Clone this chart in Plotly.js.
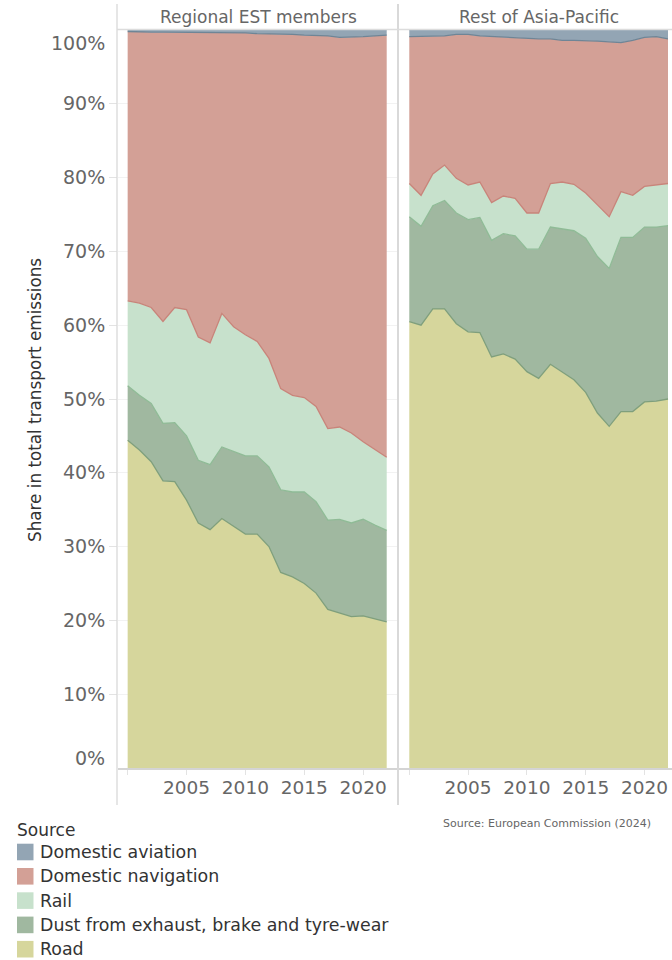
<!DOCTYPE html>
<html>
<head>
<meta charset="utf-8">
<script src="https://cdn.plot.ly/plotly-3.0.1.min.js"></script>
<style>
  html, body { margin: 0; padding: 0; background: #ffffff; }
  #chart { width: 672px; height: 960px; }
</style>
</head>
<body>
<div id="chart"></div>
<script>
// ---- Data (shares of total transport emissions, %) ----
const years = [2000, 2001, 2002, 2003, 2004, 2005, 2006, 2007, 2008, 2009, 2010, 2011,
               2012, 2013, 2014, 2015, 2016, 2017, 2018, 2019, 2020, 2021, 2022];

const panels = ["Regional EST members", "Rest of Asia-Pacific"];
const sources = ["Road", "Dust from exhaust, brake and tyre-wear", "Rail", "Domestic navigation", "Domestic aviation"];

// Regional EST members
const estRoad     = [44.4, 43.1, 41.5, 38.9, 38.8, 36.3, 33.2, 32.3, 33.8, 32.7, 31.7, 31.7, 30.0, 26.5, 25.9, 25.0, 23.7, 21.5, 21.0, 20.5, 20.6, 20.2, 19.8];
const estDust     = [7.4, 7.4, 7.9, 7.8, 8.0, 8.7, 8.5, 8.8, 9.7, 10.2, 10.6, 10.6, 10.8, 11.2, 11.5, 12.4, 12.4, 12.1, 12.7, 12.7, 13.1, 12.7, 12.4];
const estRail     = [11.5, 12.5, 13.0, 13.8, 15.6, 17.1, 16.7, 16.5, 18.1, 16.9, 16.4, 15.5, 14.7, 13.7, 13.1, 12.8, 12.9, 12.4, 12.5, 12.2, 10.5, 10.3, 9.9];
const estNav      = [36.5, 36.7, 37.3, 39.2, 37.3, 37.6, 41.3, 42.1, 38.1, 39.8, 40.9, 41.7, 44.0, 48.0, 48.9, 49.1, 50.3, 53.2, 52.8, 53.6, 54.9, 56.0, 57.2];
const estAviation = [0.2, 0.3, 0.3, 0.3, 0.3, 0.3, 0.3, 0.3, 0.3, 0.4, 0.4, 0.5, 0.5, 0.6, 0.6, 0.7, 0.7, 0.8, 1.0, 1.0, 0.9, 0.8, 0.7];

// Rest of Asia-Pacific
const rapRoad     = [60.5, 60.0, 62.2, 62.2, 60.2, 59.1, 59.0, 55.7, 56.1, 55.4, 53.7, 52.8, 54.7, 53.6, 52.6, 50.9, 48.1, 46.3, 48.3, 48.3, 49.6, 49.7, 50.0];
const rapDust     = [14.2, 13.4, 14.0, 14.7, 15.0, 15.2, 15.6, 15.8, 16.3, 16.7, 16.6, 17.5, 18.6, 19.4, 20.2, 20.9, 21.2, 21.4, 23.6, 23.6, 23.7, 23.6, 23.5];
const rapRail     = [4.5, 4.2, 4.3, 4.8, 4.7, 4.7, 4.8, 5.1, 5.1, 5.1, 4.9, 4.9, 5.9, 6.4, 6.3, 6.1, 7.0, 7.0, 6.2, 5.7, 5.5, 5.7, 5.7];
const rapNav      = [19.9, 21.5, 18.6, 17.5, 19.5, 20.4, 19.8, 22.5, 21.5, 21.8, 23.6, 23.6, 19.6, 19.2, 19.5, 20.7, 22.2, 23.7, 20.2, 21.0, 20.2, 20.1, 19.6];
const rapAviation = [0.9, 0.9, 0.9, 0.8, 0.6, 0.6, 0.8, 0.9, 1.0, 1.0, 1.2, 1.2, 1.2, 1.4, 1.4, 1.4, 1.5, 1.6, 1.7, 1.4, 1.0, 0.9, 1.2];

const xTickVals = [2000, 2005, 2010, 2015, 2020];
const xTickText = ["", "2005", "2010", "2015", "2020"];
const yTickVals = [10, 20, 30, 40, 50, 60, 70, 80, 90];
const yTickText = ["10%", "20%", "30%", "40%", "50%", "60%", "70%", "80%", "90%"];

// ---- Styles ----
const fillColors = {
  "Road": "#d6d69c",
  "Dust from exhaust, brake and tyre-wear": "#a0b8a0",
  "Rail": "#c7e1cc",
  "Domestic navigation": "#d3a096",
  "Domestic aviation": "#93a5b4"
};
// border colour drawn on each trace's upper edge (darker tone of the area above)
const edgeColors = {
  "Road": "#7f9f7c",
  "Dust from exhaust, brake and tyre-wear": "#8fbb96",
  "Rail": "#c8847a",
  "Domestic navigation": "#6f8596",
  "Domestic aviation": "#93a5b4"
};
const FONT = "DejaVu Sans";

const W = 672, H = 960;
const plotTop = 30, plotBottom = 768;
const plotH = plotBottom - plotTop;
const px2paperY = y => 1 - (y - plotTop) / plotH;

const estSeries = [estRoad, estDust, estRail, estNav, estAviation];
const rapSeries = [rapRoad, rapDust, rapRail, rapNav, rapAviation];

const traces = [];
[[estSeries, "x", "y", "est"], [rapSeries, "x2", "y2", "rap"]].forEach(([series, xa, ya, grp]) => {
  sources.forEach((s, i) => {
    const t = {
      type: "scatter",
      mode: "lines",
      x: years,
      y: series[i],
      xaxis: xa,
      yaxis: ya,
      name: s,
      stackgroup: grp,
      fillcolor: fillColors[s],
      line: { color: edgeColors[s], width: i === 4 ? 0.5 : 1.3, shape: "linear" },
      showlegend: false,
      hoverinfo: "x+y+name"
    };
    if (i === 0) t.groupnorm = "percent";
    traces.push(t);
  });
});

const gray = "#d9d9d9";
const shapes = [];
// facet frame lines
[117, 398].forEach(xp => {
  shapes.push({ type: "line", xref: "paper", yref: "paper",
    x0: xp / W, x1: xp / W, y0: px2paperY(4), y1: px2paperY(805),
    line: { color: gray, width: xp === 398 ? 2 : 1.3 }, layer: "above" });
});
// header bottom line
shapes.push({ type: "line", xref: "paper", yref: "paper",
  x0: 117 / W, x1: 1, y0: px2paperY(29.5), y1: px2paperY(29.5),
  line: { color: "#dcdcdc", width: 1.3 }, layer: "above" });

const annotations = [];
// facet headers
annotations.push({ text: panels[0], xref: "paper", yref: "paper", x: 258 / W, y: px2paperY(17.5),
  xanchor: "center", yanchor: "middle", showarrow: false, font: { family: FONT, size: 17, color: "#666666" } });
annotations.push({ text: panels[1], xref: "paper", yref: "paper", x: 539 / W, y: px2paperY(17.5),
  xanchor: "center", yanchor: "middle", showarrow: false, font: { family: FONT, size: 17, color: "#666666" } });
// end labels of the y axis (shifted inside like the original)
annotations.push({ text: "100%", xref: "paper", yref: "paper", x: 107 / W, y: px2paperY(43),
  xanchor: "right", yanchor: "middle", showarrow: false, font: { family: FONT, size: 19, color: "#666666" } });
annotations.push({ text: "0%", xref: "paper", yref: "paper", x: 107 / W, y: px2paperY(758),
  xanchor: "right", yanchor: "middle", showarrow: false, font: { family: FONT, size: 19, color: "#666666" } });
// y axis title
annotations.push({ text: "Share in total transport emissions", xref: "paper", yref: "paper",
  x: 35 / W, y: px2paperY(400), xanchor: "center", yanchor: "middle", textangle: -90,
  showarrow: false, font: { family: FONT, size: 16.8, color: "#333333" } });
// source note
annotations.push({ text: "Source: European Commission (2024)", xref: "paper", yref: "paper",
  x: 441 / W, y: px2paperY(823), xanchor: "left", yanchor: "middle", showarrow: false,
  font: { family: FONT, size: 11, color: "#666666" } });

// manual legend (top of stack first)
annotations.push({ text: "Source", xref: "paper", yref: "paper", x: 15 / W, y: px2paperY(830),
  xanchor: "left", yanchor: "middle", showarrow: false, font: { family: FONT, size: 17, color: "#333333" } });
const legendOrder = sources.slice().reverse();
legendOrder.forEach((s, k) => {
  const cy = 852 + k * 24.3;
  shapes.push({ type: "rect", xref: "paper", yref: "paper",
    x0: 17 / W, x1: 33.5 / W, y0: px2paperY(cy - 8.3), y1: px2paperY(cy + 8.3),
    fillcolor: fillColors[s], line: { width: 0 } });
  annotations.push({ text: s, xref: "paper", yref: "paper", x: 38 / W, y: px2paperY(cy),
    xanchor: "left", yanchor: "middle", showarrow: false,
    font: { family: FONT, size: 17.4, color: "#333333" } });
});

const xCommon = {
  tickmode: "array", tickvals: xTickVals, ticktext: xTickText,
  ticks: "outside", ticklen: 5, tickcolor: "#e3e3e3", tickwidth: 1,
  ticklabelstandoff: -3,
  showline: true, linecolor: "#d4d4d4", linewidth: 1.5,
  showgrid: false, zeroline: false,
  tickfont: { family: FONT, size: 18.5, color: "#666666" }
};
const yCommon = {
  range: [0, 100], domain: [0, 1], showgrid: true, gridcolor: "#f2f2f2", gridwidth: 1,
  zeroline: false, showline: false,
  tickmode: "array", tickvals: yTickVals, ticktext: yTickText
};

const layout = {
  width: W, height: H,
  margin: { l: 0, r: 0, t: plotTop, b: H - plotBottom, pad: 0 },
  paper_bgcolor: "#ffffff", plot_bgcolor: "#ffffff",
  font: { family: FONT, color: "#666666" },
  showlegend: false,
  xaxis: Object.assign({}, xCommon, { domain: [118 / W, 398 / W], range: [1999.18, 2022.96], anchor: "y" }),
  xaxis2: Object.assign({}, xCommon, { domain: [398 / W, 1], range: [1999.04, 2022.34], anchor: "y2" }),
  yaxis: Object.assign({}, yCommon, { anchor: "x", ticks: "outside", ticklen: 8, tickcolor: "#e3e3e3",
    tickfont: { family: FONT, size: 19, color: "#666666" } }),
  yaxis2: Object.assign({}, yCommon, { anchor: "x2", showticklabels: false, ticks: "", showgrid: false }),
  shapes: shapes,
  annotations: annotations
};

Plotly.newPlot("chart", traces, layout, { staticPlot: true, displayModeBar: false });
</script>
</body>
</html>
